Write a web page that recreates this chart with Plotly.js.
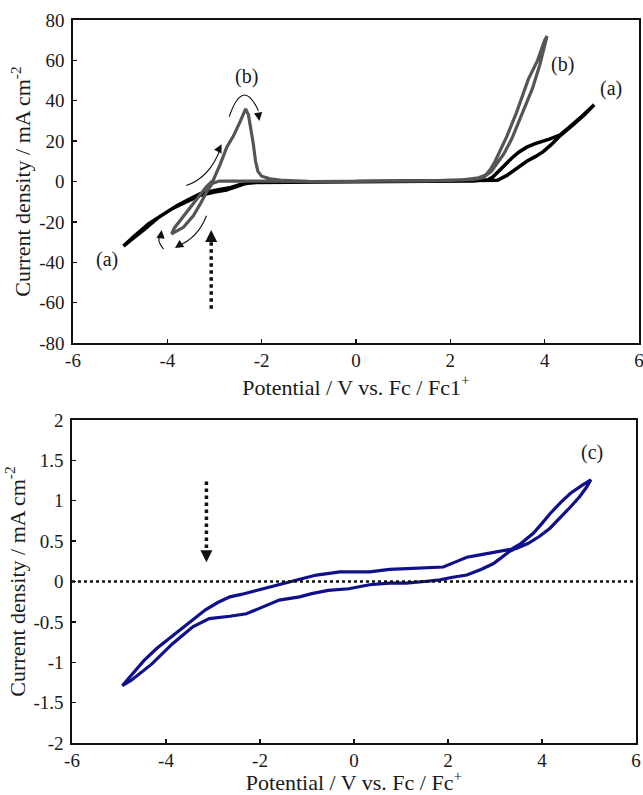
<!DOCTYPE html>
<html>
<head>
<meta charset="utf-8">
<script src="https://cdn.plot.ly/plotly-3.0.1.min.js"></script>
<style>
  html, body { margin: 0; padding: 0; background: #fff; }
  #chart { width: 643px; height: 795px; }
</style>
</head>
<body>
<div id="chart"></div>
<script>
// Cyclic voltammogram (a): potential (V vs Fc/Fc+) and current density (mA cm-2)
const aPotential = [0, 1, 2, 2.6, 3.0, 3.2, 3.4, 3.62, 3.8, 3.97, 4.15, 4.32, 4.6, 4.85, 5.05,
  4.8, 4.5, 4.32, 4.1, 3.97, 3.8, 3.62, 3.45, 3.3, 3.15, 3.0, 2.9, 2.8, 2.5, 1.5, 0, -1, -1.8, -2.2,
  -2.45, -2.65, -3.0, -3.3, -3.55, -3.8, -4.1, -4.4, -4.7, -4.93,
  -4.8, -4.5, -4.2, -3.9, -3.6, -3.3, -3.0, -2.75, -2.55, -2.35, -2.0, -1, 0];
const aCurrent = [0, 0.1, 0.3, 0.4, 0.6, 3, 6.2, 10, 12.3, 14.8, 18.5, 22.5, 28, 33.2, 38,
  32.5, 26.5, 23, 21, 20.2, 18.8, 17, 14.5, 11.5, 8, 4.5, 2.2, 0.8, 0.3, 0.1, 0, 0, -0.2, -0.5,
  -1.5, -3, -4.5, -6, -9, -12, -16.5, -21, -27, -32,
  -29.5, -24, -18, -13.5, -10, -6.8, -5.2, -4.2, -2.6, -1, -0.2, 0, 0];

// Cyclic voltammogram (b)
const bPotential = [0, 1, 2, 2.5, 2.7, 2.87, 3.0, 3.13, 3.3, 3.48, 3.62, 3.74, 3.9, 4.05,
  4.0, 3.85, 3.66, 3.51, 3.4, 3.2, 3.05, 2.95, 2.85, 2.75, 2.6, 2.27, 1.5, 0, -1, -2, -2.5, -2.9,
  -3.05, -3.15, -3.3, -3.45, -3.66, -3.91,
  -3.85, -3.73, -3.58, -3.45, -3.3, -3.17, -3.03, -2.88, -2.74, -2.6, -2.45, -2.34,
  -2.28, -2.22, -2.18, -2.13, -2.08, -2.0, -1.82, -1.54, -1, 0];
const bCurrent = [0, 0.1, 0.5, 1, 2, 5, 9, 13.5, 21, 31, 38.6, 46, 58, 72,
  70, 60, 51, 41, 34, 22.5, 15, 10, 6, 3.2, 1.8, 0.8, 0.3, 0, 0, 0.2, 0.2, 0.2,
  -1, -4.5, -11, -17, -22.7, -26,
  -23, -19.4, -14.5, -10.5, -6, -2.5, 0.5, 8.5, 17, 22.5, 30, 36,
  33, 25, 19, 10, 5, 2.6, 1.3, 0.5, 0.1, 0];

// Cyclic voltammogram (c)
const cPotential = [-4.93, -4.7, -4.47, -4.2, -3.86, -3.5, -3.16, -2.9, -2.64, -2.4, -2.12, -1.85,
  -1.59, -1.3, -1.07, -0.8, -0.55, -0.3, 0, 0.33, 0.76, 1.2, 1.6, 1.9, 2.15, 2.4, 2.68, 2.9, 3.12,
  3.35, 3.55, 3.82, 4.0, 4.17, 4.4, 4.6, 4.85, 5.04,
  4.95, 4.8, 4.6, 4.4, 4.17, 3.95, 3.7, 3.45, 3.3, 3.1, 2.96, 2.7, 2.4, 2.07, 1.83, 1.5, 1.11,
  0.76, 0.33, -0.11, -0.55, -0.9, -1.16, -1.59, -1.94, -2.29, -2.64, -3.08, -3.43, -3.86, -4.3,
  -4.73, -4.93];
const cCurrent = [-1.29, -1.13, -0.98, -0.83, -0.67, -0.5, -0.35, -0.26, -0.19, -0.16, -0.12, -0.08,
  -0.04, 0.0, 0.04, 0.08, 0.1, 0.12, 0.12, 0.12, 0.15, 0.16, 0.17, 0.18, 0.24, 0.3, 0.33, 0.35, 0.37,
  0.4, 0.47, 0.6, 0.72, 0.84, 0.98, 1.09, 1.19, 1.26,
  1.17, 1.05, 0.92, 0.8, 0.66, 0.56, 0.47, 0.41, 0.37, 0.28, 0.22, 0.15, 0.08, 0.05, 0.02, 0.0, -0.02,
  -0.02, -0.04, -0.09, -0.11, -0.15, -0.19, -0.23, -0.31, -0.40, -0.43, -0.46, -0.56, -0.77, -1.02,
  -1.22, -1.29];

// Tick labels (plain hyphen minus)
const xTickVals = [-6, -4, -2, 0, 2, 4, 6];
const xTickText = ['-6', '-4', '-2', '0', '2', '4', '6'];
const topYTickVals = [-80, -60, -40, -20, 0, 20, 40, 60, 80];
const topYTickText = ['-80', '-60', '-40', '-20', '0', '20', '40', '60', '80'];
const botYTickVals = [-2, -1.5, -1, -0.5, 0, 0.5, 1, 1.5, 2];
const botYTickText = ['-2', '-1.5', '-1', '-0.5', '0', '0.5', '1', '1.5', '2'];

const SERIF = 'Liberation Serif';
const INK = '#1a1a1a';

const traces = [
  { x: aPotential, y: aCurrent, xaxis: 'x', yaxis: 'y', mode: 'lines',
    line: { color: '#000000', width: 3.5 }, showlegend: false, hoverinfo: 'skip' },
  { x: bPotential, y: bCurrent, xaxis: 'x', yaxis: 'y', mode: 'lines',
    line: { color: '#555555', width: 3.2 }, showlegend: false, hoverinfo: 'skip' },
  { x: cPotential, y: cCurrent, xaxis: 'x2', yaxis: 'y2', mode: 'lines',
    line: { color: '#10108a', width: 3.2 }, showlegend: false, hoverinfo: 'skip' }
];

function xAxis(domain, anchor, titleText) {
  return {
    domain: domain, anchor: anchor, range: [-6, 6],
    tickmode: 'array', tickvals: xTickVals, ticktext: xTickText,
    ticks: 'inside', ticklen: 4, tickwidth: 1.3, tickcolor: '#111',
    showline: true, mirror: true, linecolor: '#111', linewidth: 1.6,
    showgrid: false, zeroline: false, ticklabeloverflow: 'allow',
    tickfont: { family: SERIF, size: 19, color: INK },
    title: { text: titleText, font: { family: SERIF, size: 22, color: INK }, standoff: 3 }
  };
}
function yAxis(domain, anchor, range, vals, text) {
  return {
    domain: domain, anchor: anchor, range: range,
    tickmode: 'array', tickvals: vals, ticktext: text,
    ticks: 'inside', ticklen: 4, tickwidth: 1.3, tickcolor: '#111',
    showline: true, mirror: true, linecolor: '#111', linewidth: 1.6,
    showgrid: false, zeroline: false, ticklabelstandoff: 3,
    tickfont: { family: SERIF, size: 19, color: INK },
    title: { text: 'Current density / mA cm<sup>-2</sup>',
             font: { family: SERIF, size: 22, color: INK }, standoff: 2 }
  };
}

// thin curved scan-direction arrows (quadratic paths) in panel 1
const thin = { color: '#111', width: 1.1 };
const shapes = [
  { type: 'path', xref: 'x', yref: 'y', path: 'M -2.69 32 Q -2.4 52 -2.07 35', line: thin },
  { type: 'path', xref: 'x', yref: 'y', path: 'M -3.6 -2 Q -3.1 2 -2.88 16', line: thin },
  { type: 'path', xref: 'x', yref: 'y', path: 'M -3.17 -17 Q -3.35 -28 -3.78 -32', line: thin },
  { type: 'path', xref: 'x', yref: 'y', path: 'M -4.08 -33.5 Q -4.25 -29 -4.14 -26', line: thin },
  // dotted marker arrow shafts
  { type: 'line', xref: 'x', yref: 'y', x0: -3.07, x1: -3.07, y0: -63, y1: -29,
    line: { color: '#111', width: 3.5, dash: 'dot' } },
  { type: 'line', xref: 'x2', yref: 'y2', x0: -3.14, x1: -3.14, y0: 1.24, y1: 0.36,
    line: { color: '#111', width: 3.5, dash: 'dot' } },
  // zero-current reference line in panel 2
  { type: 'line', xref: 'x2', yref: 'y2', x0: -6, x1: 6, y0: 0, y1: 0,
    line: { color: '#111', width: 2.5, dash: 'dot' } }
];

function head(x, y, xr, yr, ax, ay, size) {
  return { x: x, y: y, xref: xr, yref: yr, ax: ax, ay: ay, text: '', showarrow: true,
           arrowhead: 2, arrowsize: size, arrowwidth: 1.2, arrowcolor: '#111' };
}
function label(x, y, xr, yr, t) {
  return { x: x, y: y, xref: xr, yref: yr, text: t, showarrow: false,
           font: { family: SERIF, size: 20, color: INK } };
}

const annotations = [
  head(-2.05, 30, 'x', 'y', -1, -7, 1.4),
  head(-2.85, 18.5, 'x', 'y', -3, 6, 1.4),
  head(-3.84, -33, 'x', 'y', 6, -4, 1.4),
  head(-4.12, -24, 'x', 'y', -1, 7, 1.4),
  head(-3.07, -24, 'x', 'y', 0, 10, 0.8),
  head(-3.14, 0.24, 'x2', 'y2', 0, -10, 0.8),
  label(-2.33, 52, 'x', 'y', '(b)'),
  label(4.37, 58, 'x', 'y', '(b)'),
  label(5.4, 46, 'x', 'y', '(a)'),
  label(-5.27, -38.5, 'x', 'y', '(a)'),
  label(5.07, 1.6, 'x2', 'y2', '(c)')
];
// make the dotted-arrow heads solid and larger
annotations[4].arrowwidth = 3; annotations[5].arrowwidth = 3;

const layout = {
  width: 643, height: 795,
  margin: { l: 72, r: 4, t: 20, b: 52 },
  paper_bgcolor: '#ffffff', plot_bgcolor: '#ffffff',
  showlegend: false,
  font: { family: SERIF, color: INK },
  xaxis: xAxis([0.0018, 1], 'y', 'Potential / V vs. Fc / Fc1<sup>+</sup>'),
  yaxis: yAxis([0.5533, 1], 'x', [-80, 80], topYTickVals, topYTickText),
  xaxis2: xAxis([0, 0.9947], 'y2', 'Potential / V vs. Fc / Fc<sup>+</sup>'),
  yaxis2: yAxis([0, 0.4467], 'x2', [-2, 2], botYTickVals, botYTickText),
  shapes: shapes,
  annotations: annotations
};

Plotly.newPlot('chart', traces, layout, { staticPlot: true, displayModeBar: false });
</script>
</body>
</html>
